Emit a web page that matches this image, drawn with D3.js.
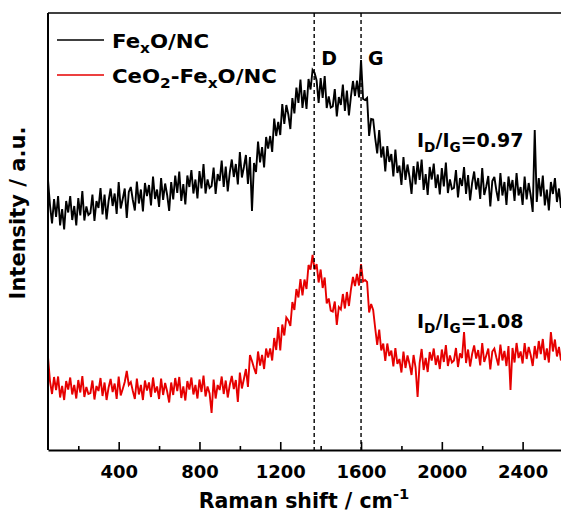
<!DOCTYPE html>
<html>
<head>
<meta charset="utf-8">
<script src="https://cdn.jsdelivr.net/npm/d3@7"></script>
<style>
  body { margin: 0; background: #fff; }
  text { font-family: "DejaVu Sans", sans-serif; font-weight: bold; fill: #000; }
</style>
</head>
<body>
<svg id="chart" width="561" height="517"></svg>
<script>
// Raman shift sampling (cm-1), one reading every 10 cm-1
var shifts = d3.range(50, 2600, 10);

// intensity readings (a.u.) for FexO/NC, 50 ... 2590 cm-1
var fexoNC = [
540,
489,453,502,466,508,449,482,441,498,475,
508,460,488,449,504,469,518,459,487,470,
474,511,458,498,484,524,471,511,461,498,
523,488,513,472,536,483,502,523,464,516,
526,500,479,537,493,521,477,534,508,530,
489,547,502,521,486,544,500,533,510,478,
536,501,549,514,557,498,532,491,549,526,
560,513,541,503,558,523,572,513,541,524,
528,565,512,552,538,579,526,567,517,555,
581,546,572,531,596,545,566,590,532,586,
478,574,556,617,575,606,565,626,603,628,
596,663,628,656,630,692,652,690,671,642,
704,673,725,694,741,684,720,682,742,721,
760,754,739,694,744,704,748,684,707,685,
687,722,667,706,690,731,678,719,669,707,
738,708,739,705,780,702,700,704,628,662,
661,624,593,640,585,607,557,608,576,592,
547,601,554,569,530,586,540,571,546,512,
568,531,577,540,581,520,552,510,566,541,
573,524,551,511,564,527,575,514,541,522,
524,560,505,544,528,566,512,550,499,534,
557,521,544,502,564,510,527,548,487,538,
546,519,498,554,509,536,490,547,519,540,
498,554,509,526,490,547,501,534,509,476,
640,496,544,507,549,489,521,479,536,512,
544,496,523,484
];

// intensity readings (a.u.) for CeO2-FexO/NC, 50 ... 2590 cm-1
var ceo2FexoNC = [
186,
137,112,146,120,147,105,128,100,138,121,
145,111,130,103,140,115,148,106,126,112,
114,139,101,128,118,144,108,135,100,125,
142,116,133,102,147,109,122,136,158,130,
136,118,102,143,111,130,100,139,119,135,
106,145,115,127,102,143,110,134,117,95,
135,110,144,118,146,104,127,99,138,121,
145,111,130,103,141,116,149,107,127,113,
74,141,103,130,120,147,112,139,105,130,
148,122,140,96,155,123,142,162,126,190,
178,164,152,197,169,190,162,203,185,203,
179,224,200,246,199,251,229,265,259,248,
296,280,322,305,342,309,341,322,370,361,
390,361,372,335,361,324,345,293,303,279,
277,297,250,286,281,312,283,316,288,321,
346,328,352,329,372,337,340,336,275,292,
280,244,210,241,199,213,178,213,188,199,
167,204,172,182,155,197,164,189,172,150,
190,165,106,174,202,160,184,156,196,179,
203,170,189,162,201,176,210,168,189,175,
179,204,166,193,184,236,174,201,167,192,
209,183,200,169,214,176,189,203,161,197,
203,185,169,211,179,198,168,208,120,204,
175,214,184,197,173,214,182,206,190,168,
208,183,218,192,222,180,203,175,236,197,
221,187,206,179
];

var majorTicks = [400, 800, 1200, 1600, 2000, 2400];
var minorTicks = [200, 600, 1000, 1400, 1800, 2200];
var bandLines = [1368, 1600];   // D and G band positions
var bandNames = ["D", "G"];

var series = [
  { parts: [["Fe"], ["x", "sub"], ["O/NC"]], values: fexoNC, color: "#000000" },
  { parts: [["CeO"], ["2", "sub"], ["-Fe"], ["x", "sub"], ["O/NC"]], values: ceo2FexoNC, color: "#e60000" }
];

var svg = d3.select("#chart");
var plotLeft = 48, plotTop = 13, plotBottom = 450, plotRight = 562;

var x = d3.scaleLinear().domain([50, 2595]).range([plotLeft, plotRight]);
var y = d3.scaleLinear().domain([0, 874]).range([plotBottom, plotTop]);

// text with sub/superscript pieces, optionally stretched horizontally
function richText(g, parts, size, tf) {
  var t = g.append("text").attr("transform", tf).style("font-size", size + "px");
  var shift = 0;
  parts.forEach(function(p) {
    var target = p[1] == "sub" ? 5 : (p[1] == "sup" ? -9 : 0);
    t.append("tspan")
      .attr("dy", target - shift)
      .style("font-size", p[1] ? (size * 0.72) + "px" : null)
      .text(p[0]);
    shift = target;
  });
  return t;
}

// spectra
var line = d3.line()
  .x(function(d, i) { return x(shifts[i]); })
  .y(function(d) { return y(d); });

series.forEach(function(s) {
  svg.append("path")
    .datum(s.values)
    .attr("fill", "none")
    .attr("stroke", s.color)
    .attr("stroke-width", 1.9)
    .attr("stroke-linejoin", "miter")
    .attr("stroke-miterlimit", 3)
    .attr("d", line);
});

// dashed band markers
svg.selectAll(".band")
  .data(bandLines)
  .enter().append("line")
  .attr("class", "band")
  .attr("x1", function(d) { return x(d); })
  .attr("x2", function(d) { return x(d); })
  .attr("y1", plotTop)
  .attr("y2", plotBottom)
  .attr("stroke", "#000")
  .attr("stroke-width", 1.4)
  .attr("stroke-dasharray", "4,3");

svg.selectAll(".bandName")
  .data(bandNames)
  .enter().append("text")
  .attr("class", "bandName")
  .attr("x", function(d, i) { return x(bandLines[i]) + 7; })
  .attr("y", 65)
  .style("font-size", "19px")
  .text(function(d) { return d; });

// ratio labels
richText(svg, [["I"], ["D", "sub"], ["/I"], ["G", "sub"], ["=0.97"]], 19, "translate(417,147)");
richText(svg, [["I"], ["D", "sub"], ["/I"], ["G", "sub"], ["=1.08"]], 19, "translate(417,328)");

// frame
svg.append("line").attr("x1", plotLeft).attr("x2", 561).attr("y1", plotTop).attr("y2", plotTop)
  .attr("stroke", "#000").attr("stroke-width", 1.6);
svg.append("line").attr("x1", plotLeft).attr("x2", plotLeft).attr("y1", plotTop).attr("y2", plotBottom)
  .attr("stroke", "#000").attr("stroke-width", 2);

// x axis
var gx = svg.append("g")
  .attr("transform", "translate(0," + plotBottom + ")")
  .call(d3.axisBottom(x).tickValues(majorTicks).tickFormat(d3.format("d"))
    .tickSizeInner(-8).tickSizeOuter(0).tickPadding(15));
gx.select(".domain").attr("stroke-width", 2);
gx.selectAll(".tick line").attr("stroke-width", 1.6);
gx.selectAll(".tick text")
  .style("font-size", "18px")
  .style("font-family", "DejaVu Sans")
  .style("font-weight", "bold");

var gm = svg.append("g")
  .attr("transform", "translate(0," + plotBottom + ")")
  .call(d3.axisBottom(x).tickValues(minorTicks).tickSizeInner(-4).tickSizeOuter(0).tickFormat(""));
gm.select(".domain").remove();
gm.selectAll(".tick line").attr("stroke-width", 1.6);

// axis titles
richText(svg, [["Raman shift / cm"], ["-1", "sup"]], 20.5, "translate(304,508)")
  .attr("text-anchor", "middle");
svg.append("text")
  .attr("transform", "translate(25,213) rotate(-90)")
  .attr("text-anchor", "middle")
  .style("font-size", "21px")
  .text("Intensity / a.u.");

// legend
var legendY = [40, 75];
series.forEach(function(s, i) {
  svg.append("line")
    .attr("x1", 57).attr("x2", 104)
    .attr("y1", legendY[i]).attr("y2", legendY[i])
    .attr("stroke", s.color)
    .attr("stroke-width", 1.5);
  richText(svg, s.parts, 19, "translate(112," + (legendY[i] + 8) + ") scale(1.12,1)");
});
</script>
</body>
</html>
